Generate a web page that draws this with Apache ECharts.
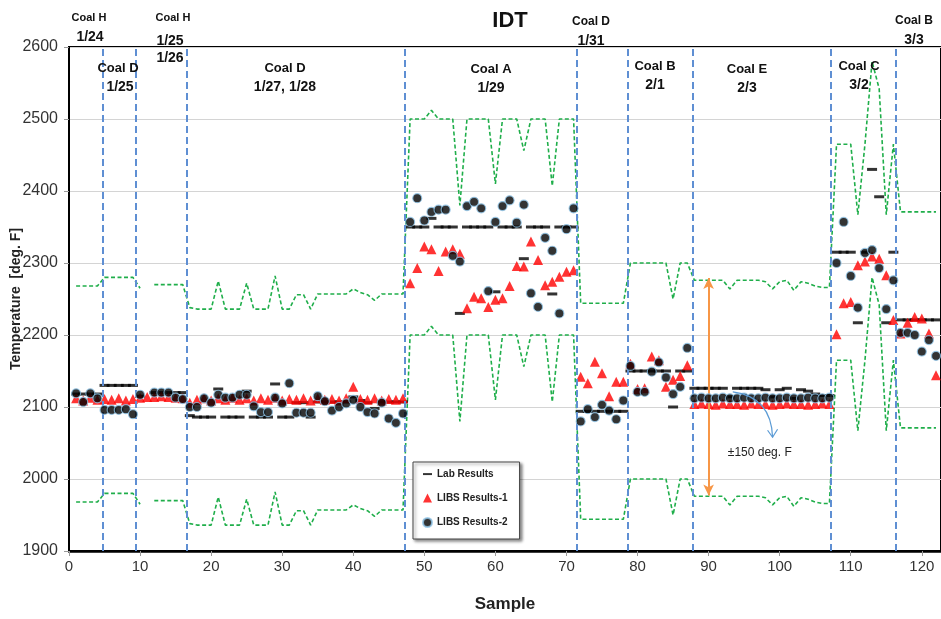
<!DOCTYPE html>
<html>
<head>
<meta charset="utf-8">
<title>IDT</title>
<script src="https://cdn.jsdelivr.net/npm/echarts@6/dist/echarts.min.js"></script>
<style>
  html, body { margin: 0; padding: 0; background: #fff; }
  #chart { width: 941px; height: 619px; }
</style>
</head>
<body>
<div id="chart"></div>
<script>
// sample numbers 1..122 (x axis)
const samples = Array.from({ length: 122 }, (_, i) => i + 1);

const labResults = [
  2118, 2118, 2118, 2118,
  2130, 2130, 2130, 2130, 2130,
  2115, null,
  2120, 2120, 2120, 2120, 2120,
  2088, 2086, 2086, 2086, 2125, 2086, 2086, 2086, 2122, 2086,
  2086, 2086, 2132, 2086, 2086, 2106, 2106, 2086, 2107, 2107,
  2107, 2107, 2107, 2114, 2109, 2106, 2098, 2107, 2107, 2107,
  2107,
  2350, 2350, 2350, 2362, 2350, 2350, 2350, 2230, 2350, 2350,
  2350, 2350, 2260, 2350, 2350, 2350, 2306, 2350, 2350, 2350,
  2257, 2350, 2350, 2350,
  2094, 2094, 2094, 2094, 2094, 2094, 2094,
  2150, 2150, 2150, 2150, 2150, 2150, 2100, 2150, 2150,
  2126, 2126, 2126, 2126, 2126, 2114, 2126, 2126, 2126, 2126,
  2124, 2114, 2124, 2126, 2112, 2124, 2122, 2118, 2116, 2116,
  2315, 2315, 2315, 2217, 2315, 2430, 2392, 2217, 2315,
  2221, 2221, 2221, 2221, 2221, 2221
];

// green dashed band (lab +/- 150 deg F)
const upperBound = [
  2268, 2268, 2268, 2268,
  2280, 2280, 2280, 2280, 2280,
  2265, null,
  2270, 2270, 2270, 2270, 2270,
  2238, 2236, 2236, 2236, 2275, 2236, 2236, 2236, 2272, 2236,
  2236, 2236, 2282, 2236, 2236, 2256, 2256, 2236, 2257, 2257,
  2257, 2257, 2257, 2264, 2259, 2256, 2248, 2257, 2257, 2257,
  2257,
  2500, 2500, 2500, 2512, 2500, 2500, 2500, 2380, 2500, 2500,
  2500, 2500, 2410, 2500, 2500, 2500, 2456, 2500, 2500, 2500,
  2407, 2500, 2500, 2500,
  2244, 2244, 2244, 2244, 2244, 2244, 2244,
  2300, 2300, 2300, 2300, 2300, 2300, 2250, 2300, 2300,
  2276, 2276, 2276, 2276, 2276, 2264, 2276, 2276, 2276, 2276,
  2274, 2264, 2274, 2276, 2262, 2274, 2272, 2268, 2266, 2266,
  2465, 2465, 2465, 2367, 2465, 2580, 2542, 2367, 2465,
  2371, 2371, 2371, 2371, 2371, 2371
];

const lowerBound = [
  1968, 1968, 1968, 1968,
  1980, 1980, 1980, 1980, 1980,
  1965, null,
  1970, 1970, 1970, 1970, 1970,
  1938, 1936, 1936, 1936, 1975, 1936, 1936, 1936, 1972, 1936,
  1936, 1936, 1982, 1936, 1936, 1956, 1956, 1936, 1957, 1957,
  1957, 1957, 1957, 1964, 1959, 1956, 1948, 1957, 1957, 1957,
  1957,
  2200, 2200, 2200, 2212, 2200, 2200, 2200, 2080, 2200, 2200,
  2200, 2200, 2110, 2200, 2200, 2200, 2156, 2200, 2200, 2200,
  2107, 2200, 2200, 2200,
  1944, 1944, 1944, 1944, 1944, 1944, 1944,
  2000, 2000, 2000, 2000, 2000, 2000, 1950, 2000, 2000,
  1976, 1976, 1976, 1976, 1976, 1964, 1976, 1976, 1976, 1976,
  1974, 1964, 1974, 1976, 1962, 1974, 1972, 1968, 1966, 1966,
  2165, 2165, 2165, 2067, 2165, 2280, 2242, 2067, 2165,
  2071, 2071, 2071, 2071, 2071, 2071
];

const libs1 = [
  2112, 2109, 2113, 2110,
  2111, 2110, 2112, 2109, 2111,
  2113, 2114, 2114, 2115, 2114, 2113, 2112,
  2106, 2110, 2112, 2109, 2112, 2110, 2113, 2110, 2112, 2109,
  2112, 2110, 2113, 2109, 2111, 2110, 2112, 2109, 2112, 2110,
  2111, 2109, 2112, 2128, 2111, 2110, 2112, 2109, 2111, 2110,
  2112,
  2272, 2293, 2323, 2319, 2289, 2316, 2319, 2313, 2237, 2253,
  2251, 2239, 2249, 2251, 2268, 2296, 2295, 2330, 2304, 2269,
  2274, 2281, 2288, 2290,
  2142, 2133, 2163, 2147, 2115, 2135, 2135,
  2160, 2125, 2126, 2170, 2165, 2128, 2138, 2143, 2158,
  2104, 2105, 2104, 2103, 2105, 2104, 2104, 2103, 2105, 2104,
  2104, 2103, 2104, 2105, 2104, 2104, 2103, 2104, 2105, 2104,
  2201, 2244, 2246, 2297, 2302, 2309, 2306, 2283, 2221,
  2202, 2217, 2225, 2223, 2202, 2144
];

const libs2 = [
  2119, 2107, 2119, 2112,
  2096, 2096, 2096, 2097, 2090,
  2117, null, 2120, 2120, 2120, 2113, 2111,
  2100, 2100, 2112, 2106, 2117, 2113, 2113, 2117, 2117, 2101,
  2093, 2093, 2113, 2105, 2133, 2092, 2092, 2092, 2115, 2108,
  2095, 2100, 2105, 2110, 2100, 2093, 2091, 2106, 2084, 2078,
  2091,
  2357, 2390, 2359, 2371, 2374, 2374, 2310, 2302, 2379, 2385,
  2376, 2261, 2357, 2379, 2387, 2356, 2381, 2258, 2239, 2335,
  2317, 2230, 2347, 2376,
  2080, 2097, 2086, 2103, 2095, 2083, 2109,
  2157, 2121, 2121, 2149, 2162, 2141, 2118, 2128, 2182,
  2112, 2113, 2112, 2112, 2113, 2112, 2112, 2113, 2112, 2112,
  2113, 2112, 2112, 2113, 2112, 2112, 2113, 2112, 2112, 2113,
  2300, 2357, 2282, 2238, 2314, 2318, 2293, 2236, 2276,
  2203, 2203, 2200, 2177, 2193, 2171
];

// coal change points (sample number) for the blue dashed separators
const coalBoundaries = [4.7, 9.4, 16.6, 47.3, 71.5, 78.6, 87.7, 107.2, 116.3];

const FONT = "'Liberation Sans', Arial, sans-serif";
const GREEN = "#1fae4a";

function pairs(values) {
  return samples.map((s, i) => [s, values[i]]);
}

function txt(id, text, x, y, size) {
  return {
    type: "text",
    id,
    x,
    y,
    z: 20,
    style: {
      text,
      fill: "#111",
      fontFamily: FONT,
      fontSize: size,
      fontWeight: "bold",
      align: "center",
      verticalAlign: "middle",
    },
  };
}

const chart = echarts.init(document.getElementById("chart"));

chart.setOption({
  animation: false,
  backgroundColor: "#ffffff",
  textStyle: { fontFamily: FONT },
  grid: {
    left: 69,
    right: 0,
    top: 47,
    bottom: 68,
    show: true,
    borderColor: "#000",
    borderWidth: 2,
    containLabel: false,
    outerBoundsMode: "none",
  },
  legend: {
    orient: "vertical",
    left: 413,
    top: 462,
    padding: [7, 12, 11, 9],
    itemGap: 14,
    itemWidth: 9,
    itemHeight: 9,
    backgroundColor: "#fff",
    borderColor: "#444",
    borderWidth: 1,
    shadowBlur: 3,
    shadowOffsetX: 2,
    shadowOffsetY: 2,
    shadowColor: "rgba(0,0,0,0.45)",
    textStyle: { fontFamily: FONT, fontSize: 10, fontWeight: "bold", color: "#222" },
    data: [
      { name: "Lab Results", icon: "path://M0,0M0,4L10,4L10,6.2L0,6.2ZM10,10" },
      { name: "LIBS Results-1", icon: "triangle" },
      { name: "LIBS Results-2", icon: "circle" },
    ],
  },
  xAxis: {
    type: "value",
    min: 0,
    max: 122.7,
    interval: 10,
    name: "Sample",
    nameLocation: "middle",
    nameGap: 45,
    nameMoveOverlap: false,
    nameTextStyle: { fontFamily: FONT, fontSize: 17, fontWeight: "bold", color: "#222" },
    axisLine: { lineStyle: { color: "#000", width: 2.5 } },
    axisTick: { show: true, length: 5, lineStyle: { color: "#999" } },
    axisLabel: {
      fontSize: 15,
      color: "#333",
      margin: 8,
      showMaxLabel: false,
      formatter: (v) => (v % 10 === 0 ? String(v) : ""),
    },
    splitLine: { show: false },
  },
  yAxis: {
    type: "value",
    min: 1900,
    max: 2600,
    interval: 100,
    name: "Temperature  [deg. F]",
    nameLocation: "middle",
    nameGap: 46,
    nameMoveOverlap: false,
    nameTextStyle: { fontFamily: FONT, fontSize: 14, fontWeight: "bold", color: "#222" },
    axisLine: { show: true, lineStyle: { color: "#000", width: 2 } },
    axisTick: { show: true, length: 5, lineStyle: { color: "#999" } },
    axisLabel: { fontSize: 16, color: "#333", margin: 11, formatter: (v) => String(v) },
    splitLine: { lineStyle: { color: "#d4d4d4", width: 1 } },
  },
  series: [
    {
      name: "Upper",
      type: "line",
      data: pairs(upperBound),
      symbol: "none",
      connectNulls: false,
      silent: true,
      z: 2,
      lineStyle: { color: GREEN, width: 1.6, type: [4, 2.5] },
      markLine: {
        silent: true,
        symbol: ["none", "none"],
        label: { show: false },
        lineStyle: { color: "#5f8fd3", width: 2, type: [7, 4] },
        data: coalBoundaries.map((v) => ({ xAxis: v })),
      },
    },
    {
      name: "Lower",
      type: "line",
      data: pairs(lowerBound),
      symbol: "none",
      connectNulls: false,
      silent: true,
      z: 2,
      lineStyle: { color: GREEN, width: 1.6, type: [4, 2.5] },
      markLine: {
        silent: true,
        symbol: ["arrow", "arrow"],
        symbolSize: [8, 11],
        label: { show: false },
        lineStyle: { color: "#f79646", width: 2, type: "solid" },
        data: [[{ coord: [90, 2279] }, { coord: [90, 1977] }]],
      },
    },
    {
      name: "Lab Results",
      type: "scatter",
      data: pairs(labResults),
      symbol: "rect",
      symbolSize: [10, 3],
      itemStyle: { color: "#000" },
      z: 3,
    },
    {
      name: "LIBS Results-1",
      type: "scatter",
      data: pairs(libs1),
      symbol: "triangle",
      symbolSize: 10,
      itemStyle: { color: "#ff0000" },
      z: 4,
    },
    {
      name: "LIBS Results-2",
      type: "scatter",
      data: pairs(libs2),
      symbol: "circle",
      symbolSize: 9,
      itemStyle: { color: "#000", borderColor: "#8ec3e6", borderWidth: 1.2 },
      z: 5,
    },
  ],
  graphic: [
    txt("title", "IDT", 510, 21, 22),
    txt("h1a", "Coal H", 89, 18, 11),
    txt("h1b", "1/24", 90, 37, 14),
    txt("h2a", "Coal H", 173, 18, 11),
    txt("h2b", "1/25", 170, 41, 14),
    txt("h2c", "1/26", 170, 58, 14),
    txt("d3a", "Coal D", 591, 22, 12),
    txt("d3b", "1/31", 591, 41, 14),
    txt("b2a", "Coal B", 914, 21, 12),
    txt("b2b", "3/3", 914, 40, 14),
    txt("d1a", "Coal D", 118, 68, 13),
    txt("d1b", "1/25", 120, 87, 14),
    txt("d2a", "Coal D", 285, 68, 13),
    txt("d2b", "1/27, 1/28", 285, 87, 14),
    txt("aa", "Coal A", 491, 69, 13),
    txt("ab", "1/29", 491, 88, 14),
    txt("ba", "Coal B", 655, 66, 13),
    txt("bb", "2/1", 655, 85, 14),
    txt("ea", "Coal E", 747, 69, 13),
    txt("eb", "2/3", 747, 88, 14),
    txt("ca", "Coal C", 859, 66, 13),
    txt("cb", "3/2", 859, 85, 14),
  ],
});

// blue curved pointer and the +/-150 note, anchored to data coordinates
const p0 = chart.convertToPixel({ gridIndex: 0 }, [93.4, 2121]);
const pc = chart.convertToPixel({ gridIndex: 0 }, [98.8, 2114]);
const p1 = chart.convertToPixel({ gridIndex: 0 }, [99.0, 2058]);
const pt = chart.convertToPixel({ gridIndex: 0 }, [97.2, 2036]);

chart.setOption({
  graphic: [
    {
      type: "bezierCurve",
      id: "curve",
      z: 15,
      shape: { x1: p0[0], y1: p0[1], cpx1: pc[0], cpy1: pc[1], x2: p1[0], y2: p1[1] },
      style: { stroke: "#5b9bd5", lineWidth: 1.2, fill: null },
    },
    {
      type: "polyline",
      id: "head",
      z: 15,
      shape: { points: [[p1[0] - 5, p1[1] - 7], [p1[0], p1[1]], [p1[0] + 5, p1[1] - 8]] },
      style: { stroke: "#5b9bd5", lineWidth: 1.2, fill: null },
    },
    {
      type: "text",
      id: "note",
      x: pt[0],
      y: pt[1],
      z: 15,
      style: {
        text: "±150 deg. F",
        fill: "#222",
        fontFamily: FONT,
        fontSize: 12,
        align: "center",
        verticalAlign: "middle",
      },
    },
  ],
});

window.addEventListener("resize", () => chart.resize());
</script>
</body>
</html>
